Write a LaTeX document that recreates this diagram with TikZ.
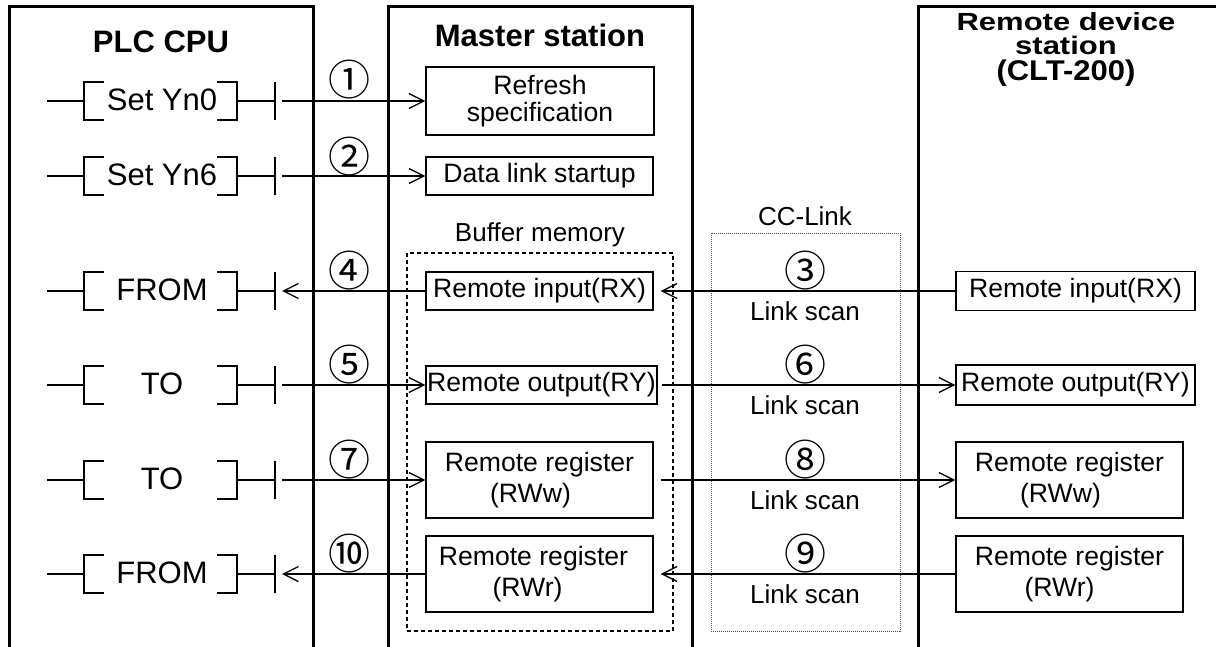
\documentclass[tikz,border=0pt]{standalone}
\usepackage{fontspec}
\setmainfont{Liberation Sans}
\newfontfamily\cjk{Noto Sans CJK JP}
\usetikzlibrary{arrows.meta}
\newcommand\ladderrow[3]{%
  \draw[thinl] (47,#2) -- (84,#2);
  \draw[thinl] (104,#2-19) -- (84,#2-19) -- (84,#2+19) -- (104,#2+19);
  \draw[thinl] (217,#2-19) -- (237,#2-19) -- (237,#2+19) -- (217,#2+19);
  \draw[thinl] (237,#2) -- (275,#2);
  \draw[thinl] (275,#2-19) -- (275,#2+19);
  \node[ladtxt] (#1t) at (162,#2-1) {#3};
  \coordinate (#1) at (282,#2);
}
\begin{document}
\begin{tikzpicture}[x=0.5pt,y=-0.5pt,
  frame/.style={line width=1.5pt},
  thinl/.style={line width=0.65pt},
  box/.style={draw, line width=0.65pt, inner sep=0pt, align=center, font=\fontsize{13.3}{14}\selectfont},
  regbox/.style={box, minimum width=113.5pt, minimum height=38pt, font=\fontsize{13.3}{15.7}\selectfont},
  arr/.style={line width=0.65pt, -{Straight Barb[length=7.5pt,width=7.5pt]}},
  num/.style={font=\cjk\fontsize{21}{21}\selectfont, inner sep=0pt},
  lbl/.style={font=\fontsize{13}{14}\selectfont, inner sep=0pt},
  ttl/.style={font=\bfseries\fontsize{15.5}{16}\selectfont, inner sep=0pt, anchor=base},
  ladtxt/.style={font=\fontsize{15.5}{16}\selectfont, inner sep=0pt}]
\fill[white] (0,0) rectangle (1216,647);
\useasboundingbox (0,0) rectangle (1216,647);

% station frames
\draw[frame] (9.5,647) -- (9.5,7) -- (313,7) -- (313,647);
\draw[frame] (388,647) -- (388,7) -- (692,7) -- (692,647);
\draw[frame] (918,647) -- (918,7) -- (1216,7);

% titles
\node[ttl] (tplc) at (161,53) {PLC CPU};
\node[ttl] (tmaster) at (540,47) {Master station};
\node[ttl] (tr1) at (1066,31) {\scalebox{1}[0.8]{Remote device}};
\node[ttl] (tr2) at (1066,55) {\scalebox{1}[0.82]{station}};
\node[ttl] (tr3) at (1066,81) {\scalebox{1}[0.92]{(CLT-200)}};

% dashed buffer memory and dotted CC-Link areas
\draw[line width=0.7pt, dash pattern=on 2pt off 1.5pt] (407,253) rectangle (673,631);
\node[lbl] (lbuf) at (540,235) {Buffer memory};
\draw[line width=0.4pt, black!70, dash pattern=on 0.5pt off 0.5pt] (711,233) rectangle (900,631);
\node[lbl] (lcc) at (805,216) {CC-Link};

% ladder rows
\ladderrow{l1}{101}{Set Yn0}
\ladderrow{l2}{176}{Set Yn6}
\ladderrow{l4}{291}{FROM}
\ladderrow{l5}{385}{TO}
\ladderrow{l7}{480}{TO}
\ladderrow{l10}{574}{FROM}

% master station boxes
\node[box, minimum width=114pt, minimum height=34pt, font=\fontsize{13.3}{13.85}\selectfont] (refresh) at (540,101) {Refresh\\specification};
\node[box, minimum width=113.5pt, minimum height=19pt] (dls) at (539.5,176) {Data link startup};
\node[box, minimum width=113.5pt, minimum height=19pt] (mRX) at (539.5,291) {Remote input(RX)};
\node[box, minimum width=115.5pt, minimum height=19pt] (mRY) at (541.5,385) {Remote output(RY)};
\node[regbox] (mRWw) at (539.5,480) {Remote register\\(RWw)\hspace*{9pt}};
\node[regbox] (mRWr) at (539.5,574) {Remote register\hspace*{6pt}\\(RWr)\hspace*{12pt}};

% remote device boxes
\node[box, minimum width=119.5pt, minimum height=19.5pt] (rRX) at (1075.5,291) {Remote input(RX)};
\node[box, minimum width=119.5pt, minimum height=20pt] (rRY) at (1075.5,385) {Remote output(RY)};
\node[regbox] (rRWw) at (1069.5,480) {Remote register\\(RWw)\hspace*{9pt}};
\node[regbox] (rRWr) at (1069.5,574) {Remote register\\(RWr)\hspace*{10pt}};

% arrows
\draw[arr] (l1) -- (refresh.west);
\draw[arr] (l2) -- (dls.west);
\draw[arr, shorten >=3.5pt] (rRX.west) -- (mRX.east);
\draw[arr] (mRX.west) -- (l4);
\draw[arr] (l5) -- (mRY.west);
\draw[arr, shorten <=2pt] (mRY.east) -- (rRY.west);
\draw[arr] (l7) -- (mRWw.west);
\draw[arr, shorten <=3.5pt] (mRWw.east) -- (rRWw.west);
\draw[arr, shorten >=3.5pt] (rRWr.west) -- (mRWr.east);
\draw[arr] (mRWr.west) -- (l10);

% step numbers
\node[num] (n1) at (349,80) {①};
\node[num] (n2) at (349,157) {②};
\node[num] (n4) at (349,271) {④};
\node[num] (n5) at (349,365) {⑤};
\node[num] (n7) at (349,460) {⑦};
\node[num] (n10) at (349,554) {⑩};
\node[num] (n3) at (805,271) {③};
\node[num] (n6) at (805,365) {⑥};
\node[num] (n8) at (805,460) {⑧};
\node[num] (n9) at (805,554) {⑨};

% link scan labels
\node[lbl] (s3) at (805,311) {Link scan};
\node[lbl] (s6) at (805,405) {Link scan};
\node[lbl] (s8) at (805,500) {Link scan};
\node[lbl] (s9) at (805,594) {Link scan};
\end{tikzpicture}
\end{document}
